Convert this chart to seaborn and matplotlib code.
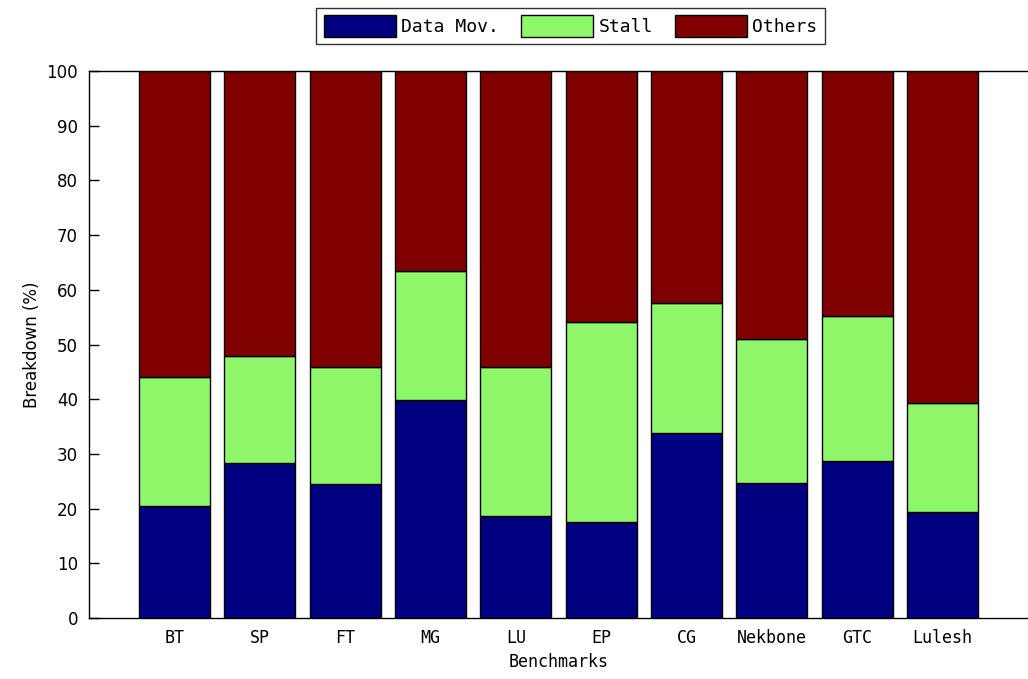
import matplotlib
matplotlib.use("Agg")
import matplotlib.pyplot as plt
from matplotlib.patches import Patch
import numpy as np
import pandas as pd
import seaborn as sns

benchmarks = ["BT", "SP", "FT", "MG", "LU", "EP", "CG", "Nekbone", "GTC", "Lulesh"]
data_mov = [20.5, 28.3, 24.5, 39.9, 18.6, 17.6, 33.9, 24.6, 28.7, 19.4]
stall = [23.6, 19.6, 21.4, 23.5, 27.2, 36.5, 23.6, 26.4, 26.5, 19.9]
others = [100 - d - s for d, s in zip(data_mov, stall)]

series_names = ["Data Mov.", "Stall", "Others"]
colors = ["#000080", "#8ff86a", "#800000"]

sns.set_theme(style="white")
plt.rcParams["font.family"] = ["DejaVu Sans Mono", "DejaVu Sans"]
plt.rcParams["text.color"] = "black"
plt.rcParams["axes.labelcolor"] = "black"
plt.rcParams["xtick.color"] = "black"
plt.rcParams["ytick.color"] = "black"

fig = plt.figure(figsize=(10.28, 6.79), dpi=100)
ax = fig.add_axes([0.0866, 0.0898, 0.9134, 0.8056])

df = pd.DataFrame({
    "bench": benchmarks,
    "Data Mov.": data_mov,
    "Stall": stall,
    "Others": others,
})

# stacked bars: each segment sits on the cumulative total of the ones below
bottom = np.zeros(len(benchmarks))
for name, color in zip(series_names, colors):
    sns.barplot(data=df, x="bench", y=name, color=color, saturation=1,
                width=0.83, bottom=bottom, edgecolor="black", linewidth=1.0,
                ax=ax, order=benchmarks)
    bottom = bottom + df[name].to_numpy()

ax.set_xlim(-1.0, 10.0)
ax.set_ylim(0, 100)
ax.set_yticks(np.arange(0, 101, 10))
ax.set_xlabel("Benchmarks", fontsize=12)
ax.set_ylabel("Breakdown (%)", fontsize=12, family="DejaVu Sans")
ax.tick_params(axis="y", direction="in", length=7, width=1, left=True,
               labelsize=12, pad=8)
ax.tick_params(axis="x", length=0, labelsize=12, pad=8)
for lbl in ax.get_yticklabels():
    lbl.set_family("DejaVu Sans")

for side in ["left", "bottom", "top"]:
    ax.spines[side].set_visible(True)
    ax.spines[side].set_color("black")
    ax.spines[side].set_linewidth(1.0)
ax.spines["right"].set_visible(False)

handles = [Patch(facecolor=c, edgecolor="black", linewidth=1.0) for c in colors]
leg = fig.legend(handles, series_names, loc="center", bbox_to_anchor=(0.555, 0.962),
                 ncol=3, frameon=True, fontsize=13, handlelength=4.0,
                 handleheight=1.45, handletextpad=0.3, columnspacing=1.2,
                 borderpad=0.4, fancybox=False)
leg.get_frame().set_edgecolor("black")
leg.get_frame().set_linewidth(1.0)

fig.savefig("out.png", dpi=100)
